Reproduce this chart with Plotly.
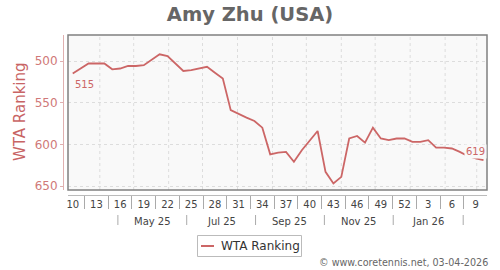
import plotly.graph_objects as go
import pandas as pd

# ---------------- data ----------------
first_week = "2025-03-08"
ranking = [515, 509, 503, 503, 503, 510, 509, 506, 506, 505, 499, 492, 494, 503,
           512, 511, 509, 507, 514, 521, 559, 564, 568, 572, 580, 612, 610, 609,
           621, 607, 596, 584, 633, 647, 639, 593, 590, 598, 580, 593, 595, 593,
           593, 597, 597, 595, 604, 604, 605, 609, 614, 617, 619]
week_labels = ["10", "13", "16", "19", "22", "25", "28", "31", "34", "37", "40",
               "43", "46", "49", "52", "3", "6", "9"]
month_labels = ["May 25", "Jul 25", "Sep 25", "Nov 25", "Jan 26"]
month_bounds = ["2025-04-17", "2025-06-17", "2025-08-17", "2025-10-17",
                "2025-12-17", "2026-02-17"]
y_ticks = [500, 550, 600, 650]

dates = pd.date_range(first_week, periods=len(ranking), freq="7D")
tick_dates = list(dates[::3])
sep_dates = [dates[i] + (dates[i + 1] - dates[i]) / 2 for i in range(1, len(dates) - 3, 3)]
grid_dates = pd.date_range("2025-04-01", "2026-03-01", freq="MS")
bounds = pd.to_datetime(month_bounds)
label_dates = [bounds[i] + (bounds[i + 1] - bounds[i]) / 2 for i in range(len(month_labels))]

# ---------------- geometry ----------------
W, H = 500, 270
L, R, T, B = 63, 13, 35, 75
PW, PH = W - L - R, H - T - B
FRAME_L, FRAME_B = 68, 190
x_range = [dates[0] - pd.Timedelta(days=4.2), dates[-1] + pd.Timedelta(days=3.1)]


def px_x(px):
    return (px - L) / PW


def px_y(py):
    return (H - B - py) / PH


def date_to_paper(d):
    frac = (d - x_range[0]) / (x_range[1] - x_range[0])
    return px_x(FRAME_L + frac * (W - R - FRAME_L))


RED = "#cc6666"
FONT = "DejaVu Sans"

fig = go.Figure()
fig.add_trace(go.Scatter(x=dates, y=ranking, mode="lines",
                         line=dict(color=RED, width=1.8), showlegend=False,
                         name="WTA Ranking"))

shapes = []
# month grid lines
for d in grid_dates:
    shapes.append(dict(type="line", xref="x", yref="paper", x0=d, x1=d,
                       y0=px_y(FRAME_B), y1=1, layer="below",
                       line=dict(color="#dddddd", width=1, dash="3px,3px")))
# frame
shapes.append(dict(type="rect", xref="paper", yref="paper", x0=px_x(FRAME_L), x1=1,
                   y0=px_y(FRAME_B), y1=1, line=dict(color="#808080", width=1.5)))
# month row separators
for d in bounds:
    xp = date_to_paper(d)
    shapes.append(dict(type="line", xref="paper", yref="paper", x0=xp, x1=xp,
                       y0=px_y(215), y1=px_y(225), line=dict(color="#aaaaaa", width=1)))
# legend
shapes.append(dict(type="rect", xref="paper", yref="paper", x0=px_x(197.5), x1=px_x(301.5),
                   y0=px_y(256.5), y1=px_y(235.5), line=dict(color="#bbbbbb", width=1),
                   fillcolor="white"))
shapes.append(dict(type="line", xref="paper", yref="paper", x0=px_x(201), x1=px_x(214),
                   y0=px_y(246), y1=px_y(246), line=dict(color=RED, width=2)))

annotations = []
annotations.append(dict(x=dates[0], y=ranking[0], text=str(ranking[0]), showarrow=False,
                        xanchor="left", yanchor="top", yshift=-3,
                        font=dict(family=FONT, size=10, color=RED)))
annotations.append(dict(x=dates[-1], y=ranking[-1], text=str(ranking[-1]), showarrow=False,
                        xanchor="right", yanchor="bottom", yshift=1, xshift=3,
                        bgcolor="#f9f9f9", borderpad=1,
                        font=dict(family=FONT, size=10, color=RED)))
annotations.append(dict(xref="paper", yref="paper", x=px_x(20), y=px_y(112),
                        text="WTA Ranking", textangle=-90, showarrow=False,
                        xanchor="center", yanchor="middle",
                        font=dict(family=FONT, size=15, color="#c86464")))
for lab, d in zip(month_labels, label_dates):
    annotations.append(dict(xref="paper", yref="paper", x=date_to_paper(d), y=px_y(221),
                            text=lab, showarrow=False, xanchor="center", yanchor="middle",
                            font=dict(family=FONT, size=10, color="#444444")))
annotations.append(dict(xref="paper", yref="paper", x=px_x(219), y=px_y(246),
                        text="WTA Ranking", showarrow=False, xanchor="left", yanchor="middle",
                        font=dict(family=FONT, size=12, color="#333333")))
annotations.append(dict(xref="paper", yref="paper", x=px_x(490), y=px_y(262),
                        text="© www.coretennis.net, 03-04-2026", showarrow=False,
                        xanchor="right", yanchor="middle",
                        font=dict(family=FONT, size=9.6, color="#666666")))

fig.update_layout(
    width=W, height=H, autosize=False,
    margin=dict(l=L, r=R, t=T, b=B, pad=0),
    paper_bgcolor="white", plot_bgcolor="#f9f9f9",
    font=dict(family=FONT),
    title=dict(text="<b>Amy Zhu (USA)</b>", x=0.5, xref="container", xanchor="center",
               y=1 - 14 / H, yref="container", yanchor="middle",
               font=dict(family=FONT, size=19.5, color="#666666")),
    xaxis=dict(type="date", range=x_range, domain=[px_x(FRAME_L), 1],
               anchor="free", position=0, automargin=False,
               showline=True, linecolor="#bbbbbb", linewidth=1,
               tickmode="array", tickvals=tick_dates, ticktext=week_labels,
               ticks="", showgrid=False, zeroline=False,
               tickfont=dict(family=FONT, size=10, color="#444444"),
               minor=dict(tickmode="array", tickvals=sep_dates, ticks="outside",
                          ticklen=13, tickcolor="#aaaaaa", tickwidth=1, showgrid=False)),
    yaxis=dict(range=[654.8, 468.8], domain=[px_y(FRAME_B), 1],
               anchor="free", position=0, automargin=False,
               showline=True, linecolor="#e0b0b0", linewidth=1,
               tickmode="array", tickvals=y_ticks, ticks="outside", ticklen=3,
               tickcolor="#e0b0b0",
               showgrid=True, gridcolor="#dddddd", griddash="3px,3px", zeroline=False,
               tickfont=dict(family=FONT, size=12, color="#d07878")),
    shapes=shapes, annotations=annotations, showlegend=False,
)

fig.write_html("out.html")
